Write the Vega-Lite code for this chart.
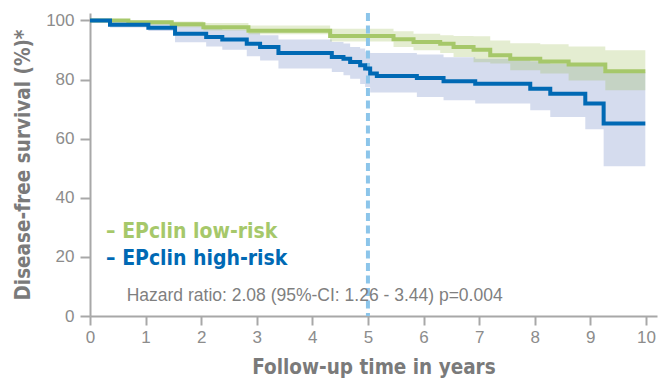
{
  "$schema": "https://vega.github.io/schema/vega-lite/v6.json",
  "autosize": "none",
  "width": 567,
  "height": 303,
  "padding": {"left": 90, "top": 13, "right": 1, "bottom": 65},
  "background": "white",
  "config": {
    "view": {"stroke": null},
    "axis": {
      "grid": false,
      "domainColor": "#a8a8a8",
      "domainWidth": 2,
      "tickColor": "#a8a8a8",
      "tickWidth": 2,
      "labelFont": "Liberation Sans",
      "labelFontSize": 17,
      "labelColor": "#8c8c8c",
      "titleFont": "Liberation Sans Narrow, DejaVu Sans Condensed",
      "titleFontSize": 20.5,
      "titleFontWeight": "bold",
      "titleColor": "#7a7a7a"
    }
  },
  "datasets": {
    "km": [
      {"group": "high", "t": 0, "s": 100, "lo": 100, "hi": 100},
      {"group": "high", "t": 0.36, "s": 98.5, "lo": 97.6, "hi": 99.6},
      {"group": "high", "t": 1.05, "s": 97.5, "lo": 96.4, "hi": 99.1},
      {"group": "high", "t": 1.53, "s": 95.5, "lo": 92.6, "hi": 98.0},
      {"group": "high", "t": 2.09, "s": 94.4, "lo": 91.2, "hi": 97.5},
      {"group": "high", "t": 2.38, "s": 93.5, "lo": 90.1, "hi": 96.8},
      {"group": "high", "t": 2.82, "s": 92.1, "lo": 87.9, "hi": 95.8},
      {"group": "high", "t": 3.06, "s": 91.0, "lo": 86.4, "hi": 95.0},
      {"group": "high", "t": 3.39, "s": 89.0, "lo": 83.7, "hi": 93.5},
      {"group": "high", "t": 4.35, "s": 87.6, "lo": 82.5, "hi": 92.7},
      {"group": "high", "t": 4.56, "s": 87.0, "lo": 81.4, "hi": 92.2},
      {"group": "high", "t": 4.68, "s": 85.9, "lo": 80.3, "hi": 91.0},
      {"group": "high", "t": 4.86, "s": 84.8, "lo": 78.5, "hi": 90.5},
      {"group": "high", "t": 4.95, "s": 83.7, "lo": 77.5, "hi": 89.5},
      {"group": "high", "t": 5.04, "s": 82.0, "lo": 75.6, "hi": 89.0},
      {"group": "high", "t": 5.16, "s": 81.2, "lo": 75.6, "hi": 89.0},
      {"group": "high", "t": 5.88, "s": 80.5, "lo": 74.1, "hi": 88.5},
      {"group": "high", "t": 6.36, "s": 79.4, "lo": 73.0, "hi": 87.5},
      {"group": "high", "t": 6.93, "s": 78.6, "lo": 71.9, "hi": 87.0},
      {"group": "high", "t": 7.92, "s": 76.9, "lo": 69.6, "hi": 86.2},
      {"group": "high", "t": 8.28, "s": 75.2, "lo": 67.3, "hi": 85.4},
      {"group": "high", "t": 8.91, "s": 71.9, "lo": 63.2, "hi": 84.8},
      {"group": "high", "t": 9.24, "s": 65.1, "lo": 50.7, "hi": 82.5},
      {"group": "high", "t": 9.99, "s": 65.1, "lo": 50.7, "hi": 82.5},
      {"group": "low", "t": 0, "s": 100, "lo": 100, "hi": 100},
      {"group": "low", "t": 0.69, "s": 99.4, "lo": 98.6, "hi": 100},
      {"group": "low", "t": 1.47, "s": 98.7, "lo": 97.7, "hi": 99.6},
      {"group": "low", "t": 2.04, "s": 97.7, "lo": 96.6, "hi": 99.1},
      {"group": "low", "t": 2.85, "s": 96.5, "lo": 95.3, "hi": 98.3},
      {"group": "low", "t": 4.32, "s": 94.7, "lo": 92.9, "hi": 97.2},
      {"group": "low", "t": 5.46, "s": 93.6, "lo": 91.0, "hi": 96.3},
      {"group": "low", "t": 5.82, "s": 92.7, "lo": 89.9, "hi": 95.5},
      {"group": "low", "t": 6.3, "s": 92.1, "lo": 89.0, "hi": 95.0},
      {"group": "low", "t": 6.54, "s": 91.0, "lo": 87.6, "hi": 94.7},
      {"group": "low", "t": 6.9, "s": 90.1, "lo": 85.8, "hi": 94.6},
      {"group": "low", "t": 7.2, "s": 88.2, "lo": 85.4, "hi": 93.2},
      {"group": "low", "t": 7.56, "s": 87.0, "lo": 83.1, "hi": 92.3},
      {"group": "low", "t": 8.1, "s": 86.1, "lo": 82.0, "hi": 91.9},
      {"group": "low", "t": 8.61, "s": 85.1, "lo": 79.7, "hi": 91.2},
      {"group": "low", "t": 9.27, "s": 82.8, "lo": 76.4, "hi": 89.9},
      {"group": "low", "t": 9.99, "s": 82.8, "lo": 76.4, "hi": 89.9}
    ],
    "notes": [
      {"kind": "low", "t": 0.29, "s": 28.5, "label": "– EPclin low-risk"},
      {"kind": "high", "t": 0.29, "s": 19.3, "label": "– EPclin high-risk"}
    ],
    "hr": [
      {"t": 0.66, "s": 6.8, "label": "Hazard ratio: 2.08 (95%-CI: 1.26 - 3.44) p=0.004"}
    ],
    "ref": [{"t": 5}]
  },
  "layer": [
    {
      "data": {"name": "km"},
      "transform": [{"filter": "datum.group === 'high'"}],
      "mark": {"type": "area", "interpolate": "step-after", "color": "#d5dcee"},
      "encoding": {
        "x": {
          "field": "t", "type": "quantitative",
          "scale": {"domain": [0, 10.2], "nice": false, "zero": false},
          "axis": {
            "values": [0, 1, 2, 3, 4, 5, 6, 7, 8, 9, 10], "format": "d",
            "tickSize": 9, "labelPadding": 4, "labelFlush": false,
            "title": "Follow-up time in years", "titlePadding": 12
          }
        },
        "y": {
          "field": "lo", "type": "quantitative",
          "scale": {"domain": [0, 102.5], "nice": false},
          "axis": {
            "values": [0, 20, 40, 60, 80, 100], "format": "d",
            "tickSize": 10, "labelPadding": 6,
            "title": "Disease-free survival (%)*", "titlePadding": 12
          }
        },
        "y2": {"field": "hi"}
      }
    },
    {
      "data": {"name": "km"},
      "transform": [{"filter": "datum.group === 'low'"}],
      "mark": {"type": "area", "interpolate": "step-after", "color": "#9dbf5b", "opacity": 0.28},
      "encoding": {
        "x": {"field": "t", "type": "quantitative"},
        "y": {"field": "lo", "type": "quantitative"},
        "y2": {"field": "hi"}
      }
    },
    {
      "data": {"name": "ref"},
      "mark": {"type": "rule", "color": "#8cc5ea", "strokeWidth": 4, "strokeDash": [8, 4.5]},
      "encoding": {"x": {"field": "t", "type": "quantitative"}}
    },
    {
      "data": {"name": "km"},
      "transform": [{"filter": "datum.group === 'low'"}],
      "mark": {"type": "line", "interpolate": "step-after", "color": "#a6c86a", "strokeWidth": 4},
      "encoding": {
        "x": {"field": "t", "type": "quantitative"},
        "y": {"field": "s", "type": "quantitative"}
      }
    },
    {
      "data": {"name": "km"},
      "transform": [{"filter": "datum.group === 'high'"}],
      "mark": {"type": "line", "interpolate": "step-after", "color": "#0069b4", "strokeWidth": 4},
      "encoding": {
        "x": {"field": "t", "type": "quantitative"},
        "y": {"field": "s", "type": "quantitative"}
      }
    },
    {
      "data": {"name": "notes"},
      "mark": {"type": "text", "align": "left", "baseline": "middle", "font": "Liberation Sans Narrow, DejaVu Sans Condensed", "fontSize": 21, "fontWeight": "bold"},
      "encoding": {
        "x": {"field": "t", "type": "quantitative"},
        "y": {"field": "s", "type": "quantitative"},
        "text": {"field": "label"},
        "color": {"field": "kind", "type": "nominal", "scale": {"domain": ["low", "high"], "range": ["#a6c86a", "#0069b4"]}, "legend": null}
      }
    },
    {
      "data": {"name": "hr"},
      "mark": {"type": "text", "align": "left", "baseline": "middle", "font": "Liberation Sans", "fontSize": 17.5, "color": "#7f7f7f"},
      "encoding": {
        "x": {"field": "t", "type": "quantitative"},
        "y": {"field": "s", "type": "quantitative"},
        "text": {"field": "label"}
      }
    }
  ]
}
